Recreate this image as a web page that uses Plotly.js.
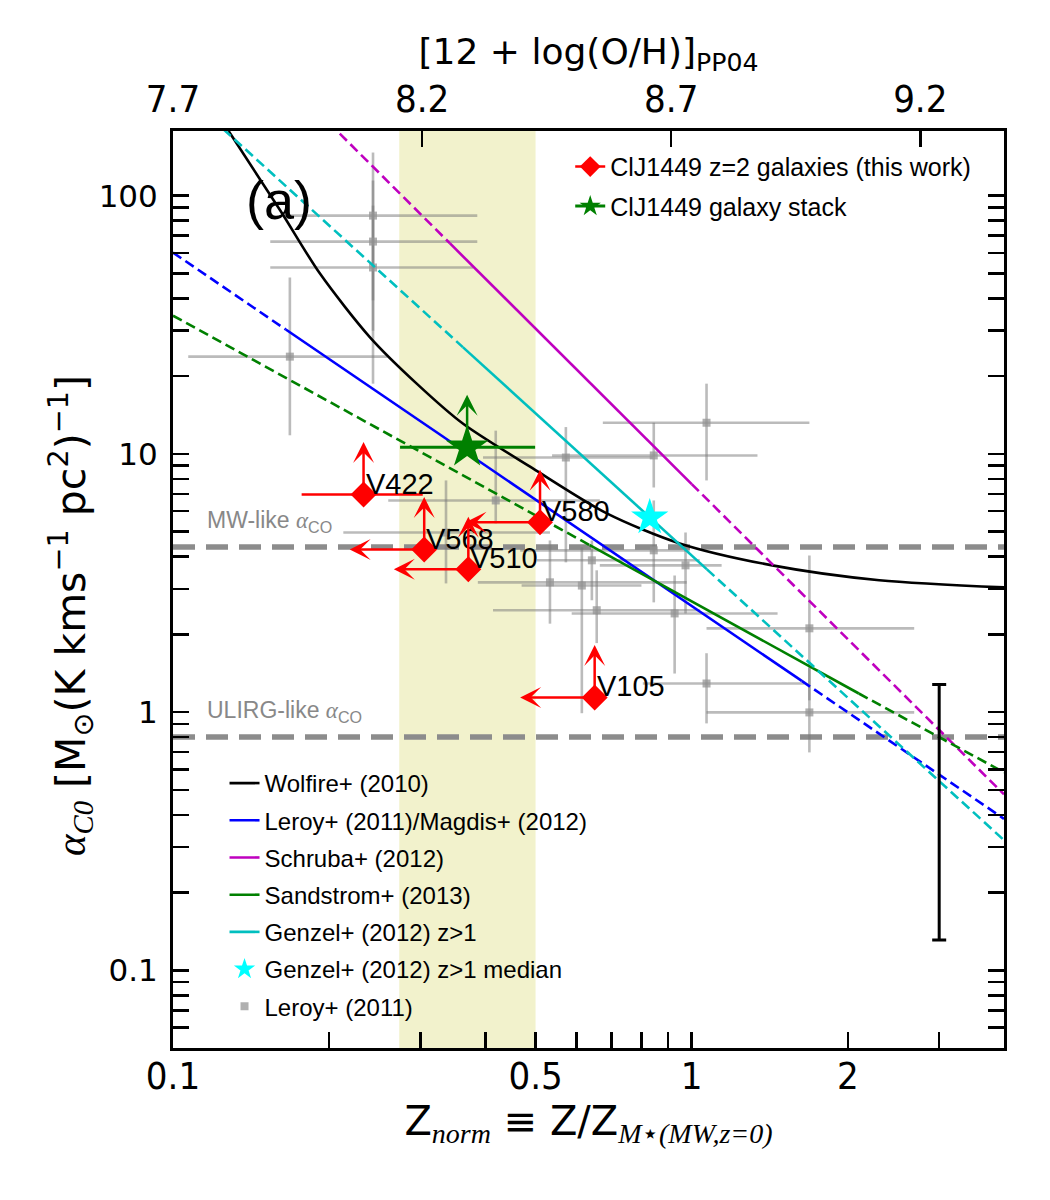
<!DOCTYPE html>
<html>
<head>
<meta charset="utf-8">
<title>alpha_CO versus normalised metallicity</title>
<script src="https://cdn.plot.ly/plotly-3.0.1.min.js"></script>
<style>
  html, body { margin: 0; padding: 0; background: #ffffff; }
  #chart { width: 1050px; height: 1200px; }
</style>
</head>
<body>
<div id="chart"></div>
<script>
// ---------- axis ticks ----------
const zTicks = [0.1, 0.2, 0.3, 0.4, 0.5, 0.6, 0.7, 0.8, 0.9, 1, 2, 3];
const zTickText = ['0.1', '', '', '', '0.5', '', '', '', '', '1', '2', ''];
const ohTicks = [7.7, 8.2, 8.7, 9.2];
const ohTickText = ['7.7', '8.2', '8.7', '9.2'];
const ohRange = [7.7, 9.368];
const alphaTicks = [0.05, 0.06, 0.07, 0.08, 0.09,
  0.1, 0.2, 0.3, 0.4, 0.5, 0.6, 0.7, 0.8, 0.9,
  1, 2, 3, 4, 5, 6, 7, 8, 9,
  10, 20, 30, 40, 50, 60, 70, 80, 90, 100];
const alphaTickText = ['', '', '', '', '',
  '0.1', '', '', '', '', '', '', '', '',
  '1', '', '', '', '', '', '', '', '',
  '10', '', '', '', '', '', '', '', '', '100'];

// ---------- model relations (Z_norm, alpha_CO) ----------
const wolfireZ = [0.128, 0.161, 0.192, 0.240, 0.295, 0.362, 0.494, 0.686, 0.948, 1.43, 2.30, 4.0];
const wolfireA = [178, 87.6, 49.9, 28.2, 18.7, 13.1, 8.78, 5.88, 4.50, 3.70, 3.24, 3.04];
// straight relations: [left end, start of fitted range, end of fitted range, right end]
const leroyMagdisZ = [0.1, 0.165, 1.63, 4.0];
const leroyMagdisA = [60.2, 30.3, 1.32, 0.386];
const schrubaZ = [0.2, 0.342, 1.0, 4.0];
const schrubaA = [191, 65.3, 7.64, 0.48];
const sandstromZ = [0.1, 0.636, 2.10, 4.0];
const sandstromA = [34.3, 4.43, 1.18, 0.584];
const genzelZ = [0.125, 0.362, 1.07, 4.0];
const genzelA = [181, 25.9, 3.57, 0.319];
const genzelMedianZ = [0.83];
const genzelMedianA = [5.67];

// ---------- Leroy+ (2011) galaxies ----------
const leroyPtZ   = [0.243, 0.243, 0.243, 0.168, 0.419, 0.572, 0.845, 1.068, 0.845, 0.973, 0.642, 0.533, 0.614, 0.656, 0.927, 1.686, 1.068, 1.686, 0.336];
const leroyPtA   = [83.7, 66.4, 52.7, 23.8, 6.60, 9.68, 9.86, 13.2, 4.23, 3.70, 3.87, 3.18, 3.09, 2.48, 2.41, 2.11, 1.29, 0.997, 4.96];
const leroyPtZLo = [0.163, 0.154, 0.154, 0.107, 0.260, 0.396, 0.538, 0.674, 0.467, 0.665, 0.503, 0.387, 0.470, 0.414, 0.587, 1.068, 0.805, 1.068, 0.213];
const leroyPtZHi = [0.386, 0.386, 0.379, 0.259, 0.665, 0.841, 1.339, 1.686, 0.991, 1.142, 1.036, 0.978, 0.800, 1.036, 1.464, 2.685, 1.649, 2.685, 0.533];
const leroyPtALo = [39.3, 30.0, 18.7, 11.8, 5.38, 3.80, 7.41, 7.89, 2.66, 2.41, 2.71, 2.20, 0.99, 1.85, 1.41, 1.11, 0.904, 0.698, 3.15];
const leroyPtAHi = [146.9, 114.4, 91.5, 48.2, 12.3, 12.7, 13.2, 18.7, 6.60, 4.96, 4.62, 4.62, 4.34, 3.54, 3.38, 4.04, 1.69, 1.48, 7.89];

// ---------- ClJ1449 z=2 galaxies ----------
const cljNames = ['V422', 'V568', 'V510', 'V580', 'V105'];
const cljZ = [0.233, 0.305, 0.371, 0.510, 0.650];
const cljA = [6.96, 4.26, 3.57, 5.43, 1.14];
const cljZLo = [0.177, null, null, null, null];
const cljZHi = [0.303, null, null, null, null];
const cljZUpper = [false, true, true, true, true];   // metallicity upper limits
const cljALower = [true, true, true, true, true];    // alpha_CO lower limits

// ---------- ClJ1449 stack ----------
const stackZ = [0.369];
const stackA = [10.6];
const stackZLo = [0.274];
const stackZHi = [0.499];

// ---------- reference levels & ranges ----------
const mwAlpha = 4.36;
const ulirgAlpha = 0.8;
const bandZ = [0.273, 0.5];
const typErrZ = [3];
const typErrA = [0.409];
const typErrALo = [0.131];
const typErrAHi = [1.28];

// ---------- style ----------
const FONT_SANS = "'Liberation Sans', Arial, sans-serif";
const FONT_NARROW = "'Liberation Sans Narrow', 'DejaVu Sans Condensed', sans-serif";
const FONT_DEJAVU = "'DejaVu Sans', sans-serif";
const SERIF_IT = (s) => `<i><span style="font-family:'Liberation Serif',serif">${s}</span></i>`;
const GRAY_ERR = 'rgba(120,120,120,0.5)';
const LW = 2.6;
const DASH = '10px,5px';
const UP_LEN = 54, LEFT_LEN = 76;

const log10 = Math.log10;
// put a gap between consecutive points so 'lines+markers' draws no connecting segments
const isolate = arr => arr.flatMap((v, i) => (i ? [null, v] : [v]));

const traces = [];

traces.push({
  type: 'scatter', mode: 'markers', name: 'Leroy+ (2011)',
  x: leroyPtZ, y: leroyPtA,
  error_x: { type: 'data', symmetric: false,
    array: leroyPtZHi.map((h, i) => h - leroyPtZ[i]),
    arrayminus: leroyPtZLo.map((l, i) => leroyPtZ[i] - l),
    color: GRAY_ERR, thickness: 2.6, width: 0 },
  error_y: { type: 'data', symmetric: false,
    array: leroyPtAHi.map((h, i) => h - leroyPtA[i]),
    arrayminus: leroyPtALo.map((l, i) => leroyPtA[i] - l),
    color: GRAY_ERR, thickness: 2.6, width: 0 },
  marker: { symbol: 'square', size: 8, color: 'rgba(150,150,150,0.75)' },
  legend: 'legend2', legendgroup: 'g7', legendrank: 7, hoverinfo: 'skip'
});

function relation(name, zs, as, color, rank) {
  traces.push({ type: 'scatter', mode: 'lines', x: zs.slice(0, 2), y: as.slice(0, 2),
    line: { color: color, width: LW, dash: DASH }, showlegend: false, hoverinfo: 'skip' });
  traces.push({ type: 'scatter', mode: 'lines', x: zs.slice(2, 4), y: as.slice(2, 4),
    line: { color: color, width: LW, dash: DASH }, showlegend: false, hoverinfo: 'skip' });
  traces.push({ type: 'scatter', mode: 'lines', name: name, x: zs.slice(1, 3), y: as.slice(1, 3),
    line: { color: color, width: LW }, legend: 'legend2', legendgroup: 'g' + rank,
    legendrank: rank, hoverinfo: 'skip' });
}

traces.push({ type: 'scatter', mode: 'lines', name: 'Wolfire+ (2010)',
  x: wolfireZ, y: wolfireA, line: { color: '#000000', width: LW, shape: 'spline', smoothing: 0.8 },
  legend: 'legend2', legendgroup: 'g1', legendrank: 1, hoverinfo: 'skip' });
relation('Leroy+ (2011)/Magdis+ (2012)', leroyMagdisZ, leroyMagdisA, '#0000ff', 2);
relation('Schruba+ (2012)', schrubaZ, schrubaA, '#bf00bf', 3);
relation('Sandstrom+ (2013)', sandstromZ, sandstromA, '#008000', 4);
relation('Genzel+ (2012) z>1', genzelZ, genzelA, '#00bfbf', 5);

traces.push({ type: 'scatter', mode: 'markers', name: 'Genzel+ (2012) z>1 median',
  x: genzelMedianZ, y: genzelMedianA,
  marker: { symbol: 'star', size: 28, color: '#00ffff', line: { width: 0 } },
  legend: 'legend2', legendgroup: 'g6', legendrank: 6, hoverinfo: 'skip' });

// typical uncertainty
traces.push({ type: 'scatter', mode: 'markers', x: typErrZ, y: typErrA, showlegend: false,
  marker: { size: 1, color: 'rgba(0,0,0,0)' },
  error_y: { type: 'data', symmetric: false,
    array: typErrAHi.map((h, i) => h - typErrA[i]),
    arrayminus: typErrALo.map((l, i) => typErrA[i] - l),
    color: '#000000', thickness: 3, width: 7 }, hoverinfo: 'skip' });

// metallicity scale along the top: its two ends carry the upper axis
traces.push({ type: 'scatter', mode: 'markers', xaxis: 'x2', yaxis: 'y',
  x: ohRange, y: [mwAlpha, mwAlpha], marker: { size: 1, color: 'rgba(0,0,0,0)' },
  showlegend: false, hoverinfo: 'skip' });

// stack
traces.push({ type: 'scatter', mode: 'lines+markers', name: 'ClJ1449 galaxy stack',
  x: stackZ, y: stackA,
  error_x: { type: 'data', symmetric: false,
    array: stackZHi.map((h, i) => h - stackZ[i]),
    arrayminus: stackZLo.map((l, i) => stackZ[i] - l),
    color: '#008000', thickness: 3, width: 0 },
  line: { color: '#008000', width: 3 },
  marker: { symbol: 'star', size: 32, color: '#008000', line: { width: 0 } },
  legend: 'legend', legendgroup: 's2', legendrank: 2, hoverinfo: 'skip' });

// individual galaxies
traces.push({ type: 'scatter', mode: 'lines+markers', name: 'ClJ1449 z=2 galaxies (this work)',
  x: isolate(cljZ), y: isolate(cljA), connectgaps: false,
  error_x: { type: 'data', symmetric: false,
    array: isolate(cljZHi.map((h, i) => (h === null ? 0 : h - cljZ[i]))),
    arrayminus: isolate(cljZLo.map((l, i) => (l === null ? 0 : cljZ[i] - l))),
    color: '#ff0000', thickness: 2.5, width: 0 },
  line: { color: '#ff0000', width: 2.5 },
  marker: { symbol: 'diamond', size: 20, color: '#ff0000', line: { width: 0 } },
  legend: 'legend', legendgroup: 's1', legendrank: 1, hoverinfo: 'skip' });

// ---------- annotations ----------
const annotations = [];
function arrow(z, a, dx, dy, color) {
  annotations.push({ x: log10(z), y: log10(a), xref: 'x', yref: 'y',
    ax: dx, ay: dy, axref: 'pixel', ayref: 'pixel', text: '', showarrow: true,
    arrowside: 'start', startarrowhead: 3, startarrowsize: 1.4, arrowwidth: 2.5,
    arrowcolor: color, standoff: 0, startstandoff: 0 });
}
cljNames.forEach((name, i) => {
  if (cljALower[i]) arrow(cljZ[i], cljA[i], 0, -UP_LEN, '#ff0000');
  if (cljZUpper[i]) arrow(cljZ[i], cljA[i], -LEFT_LEN, 0, '#ff0000');
  annotations.push({ x: log10(cljZ[i]), y: log10(cljA[i]), xref: 'x', yref: 'y',
    text: name, showarrow: false, xanchor: 'left', yanchor: 'bottom', yshift: -7,
    font: { family: FONT_SANS, size: 29, color: '#000000' } });
});
arrow(stackZ[0], stackA[0], 0, -UP_LEN, '#008000');

annotations.push({ x: 0.039, xref: 'paper', y: log10(mwAlpha), yref: 'y',
  text: 'MW-like ' + SERIF_IT('α') + '<sub>CO</sub>', showarrow: false, xanchor: 'left', yanchor: 'bottom', yshift: 9,
  font: { family: FONT_SANS, size: 23, color: '#888888' } });
annotations.push({ x: 0.039, xref: 'paper', y: log10(ulirgAlpha), yref: 'y',
  text: 'ULIRG-like ' + SERIF_IT('α') + '<sub>CO</sub>', showarrow: false, xanchor: 'left', yanchor: 'bottom', yshift: 9,
  font: { family: FONT_SANS, size: 23, color: '#888888' } });
annotations.push({ x: 0.085, xref: 'paper', y: 0.925, yref: 'paper', text: '(a)',
  showarrow: false, xanchor: 'left', yanchor: 'middle',
  font: { family: FONT_SANS, size: 54, color: '#000000' } });
annotations.push({ x: -0.123, xref: 'paper', y: 0.472, yref: 'paper', textangle: -90,
  text: SERIF_IT('α') + '<sub>' + SERIF_IT('C0') + '</sub> [M<sub>⊙</sub>(K kms<sup>−1</sup> pc<sup>2</sup>)<sup>−1</sup>]',
  showarrow: false, xanchor: 'center', yanchor: 'middle',
  font: { family: FONT_DEJAVU, size: 41, color: '#000000' } });

// ---------- shapes ----------
const shapes = [
  { type: 'rect', xref: 'x', yref: 'paper', x0: bandZ[0], x1: bandZ[1], y0: 0, y1: 1,
    fillcolor: '#f2f2cc', line: { width: 0 }, layer: 'below' },
  { type: 'line', xref: 'paper', yref: 'y', x0: 0, x1: 1, y0: mwAlpha, y1: mwAlpha,
    line: { color: '#8c8c8c', width: 5.5, dash: '22px,11px' }, layer: 'below' },
  { type: 'line', xref: 'paper', yref: 'y', x0: 0, x1: 1, y0: ulirgAlpha, y1: ulirgAlpha,
    line: { color: '#8c8c8c', width: 5.5, dash: '22px,11px' }, layer: 'below' }
];

const axisCommon = { showgrid: false, zeroline: false, ticks: 'inside', ticklen: 16, tickwidth: 2.5,
  tickcolor: '#000000' };

const layout = {
  width: 1050, height: 1200,
  margin: { l: 173, r: 46, t: 131, b: 152, pad: 0 },
  paper_bgcolor: '#ffffff', plot_bgcolor: '#ffffff',
  showlegend: true, hovermode: false,
  xaxis: Object.assign({}, axisCommon, {
    type: 'log', range: [log10(0.1), log10(4)],
    tickmode: 'array', tickvals: zTicks, ticktext: zTickText,
    showline: true, linewidth: 3, linecolor: '#000000', mirror: true,
    tickfont: { family: FONT_NARROW, size: 38, color: '#000000' }, ticklabelstandoff: -8,
    title: { text: 'Z<sub>' + SERIF_IT('norm') + '</sub> ≡ Z/Z<sub>' + SERIF_IT('M') + '⋆' + SERIF_IT('(MW,z=0)') + '</sub>',
      font: { family: FONT_DEJAVU, size: 40, color: '#000000' }, standoff: 1 }
  }),
  xaxis2: Object.assign({}, axisCommon, {
    overlaying: 'x', side: 'top', anchor: 'y', type: 'linear', range: ohRange,
    tickmode: 'array', tickvals: ohTicks, ticktext: ohTickText, showline: false,
    tickfont: { family: FONT_NARROW, size: 38, color: '#000000' }, ticklabelstandoff: 10,
    title: { text: '[12 + log(O/H)]<sub>PP04</sub>',
      font: { family: FONT_DEJAVU, size: 36, color: '#000000' }, standoff: 0 }
  }),
  yaxis: Object.assign({}, axisCommon, {
    type: 'log', range: [log10(0.05), log10(178)],
    tickmode: 'array', tickvals: alphaTicks, ticktext: alphaTickText,
    showline: true, linewidth: 3, linecolor: '#000000', mirror: 'ticks',
    tickfont: { family: FONT_DEJAVU, size: 31, color: '#000000' }, ticklabelstandoff: 6
  }),
  legend: { x: 0.478, y: 0.986, xanchor: 'left', yanchor: 'top', bgcolor: 'rgba(0,0,0,0)',
    font: { family: FONT_SANS, size: 25, color: '#000000' }, traceorder: 'grouped',
    tracegroupgap: 4 },
  legend2: { x: 0.062, y: 0.313, xanchor: 'left', yanchor: 'top', bgcolor: 'rgba(0,0,0,0)',
    font: { family: FONT_SANS, size: 24, color: '#000000' }, traceorder: 'grouped',
    tracegroupgap: 3 },
  shapes: shapes,
  annotations: annotations
};

Plotly.newPlot('chart', traces, layout, { displayModeBar: false, staticPlot: true });
</script>
</body>
</html>
